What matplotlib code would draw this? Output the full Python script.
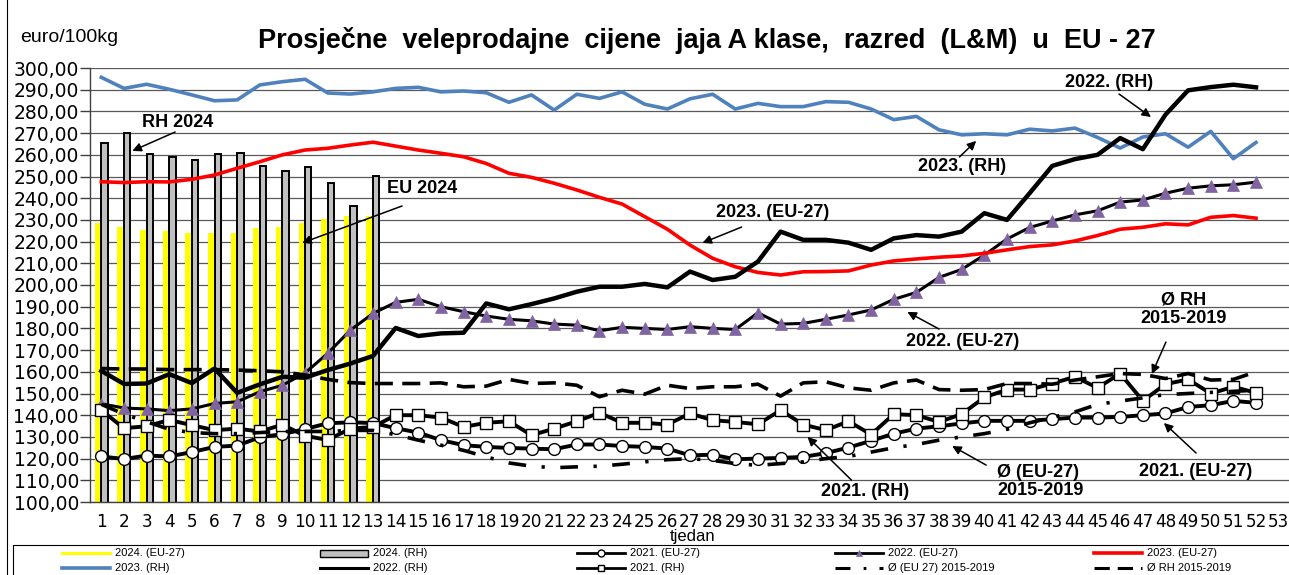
import matplotlib
matplotlib.use("Agg")
import matplotlib.pyplot as plt
import numpy as np
from matplotlib.patches import Rectangle

# ---------------- data ----------------
weeks = list(range(1, 53))
xtick_labels = [str(i) for i in range(1, 54)]
bar_weeks = list(range(1, 14))

eu_2024 = [228.7, 226.7, 225.3, 224.9, 224.1, 223.8, 224.1, 226.1, 226.7, 228.7, 230.4, 231.9, 231.9]
rh_2024 = [265.3, 270.2, 260.4, 259.1, 257.6, 260.4, 261.0, 255.0, 252.7, 254.2, 246.9, 236.4, 250.2]

eu_2021 = [121.0, 119.8, 121.4, 121.0, 123.0, 125.4, 126.0, 129.8, 131.3, 133.6, 136.3, 136.7, 136.4,
           134.0, 132.0, 128.5, 126.2, 125.4, 124.9, 124.6, 124.3, 126.5, 126.5, 125.8, 125.4, 124.6,
           121.5, 121.8, 119.7, 120.0, 120.3, 120.8, 122.5, 125.1, 128.2, 131.5, 133.8, 134.9, 136.2,
           137.4, 137.4, 137.4, 138.2, 138.9, 138.9, 139.2, 140.0, 140.8, 143.8, 144.6, 146.6, 145.7]
eu_2022 = [145.3, 143.3, 142.9, 142.1, 142.9, 145.4, 146.2, 150.8, 153.8, 159.5, 168.5, 179.2, 186.9,
           192.0, 193.4, 190.0, 187.7, 185.7, 184.2, 183.5, 182.0, 181.5, 178.9, 180.5, 180.0, 179.5,
           180.8, 180.0, 179.5, 187.2, 182.0, 182.3, 184.2, 186.2, 188.5, 193.4, 196.6, 203.5, 207.2,
           213.8, 221.2, 226.5, 229.5, 232.3, 234.2, 238.2, 239.2, 242.3, 244.6, 245.7, 246.2, 247.4]
eu_2023 = [247.6, 247.2, 247.6, 247.5, 248.7, 250.7, 253.8, 256.8, 260.0, 262.2, 263.0, 264.5, 265.8,
           264.0, 262.2, 260.7, 259.1, 256.0, 251.5, 249.6, 246.9, 243.8, 240.4, 237.3, 231.5, 225.7,
           218.4, 212.3, 208.4, 205.8, 204.6, 206.1, 206.2, 206.5, 209.2, 211.1, 212.0, 212.8, 213.4,
           214.6, 216.2, 217.7, 218.5, 220.3, 222.8, 225.7, 226.6, 228.2, 227.7, 231.2, 232.0, 230.8]
rh_2023 = [295.7, 290.6, 292.5, 290.2, 287.6, 284.9, 285.3, 292.2, 293.7, 294.8, 288.5, 288.0, 289.0,
           290.6, 291.1, 289.0, 289.4, 288.6, 284.2, 287.6, 280.6, 287.9, 286.0, 289.0, 283.3, 281.1,
           285.8, 287.9, 281.1, 283.7, 282.2, 282.2, 284.5, 284.2, 281.1, 276.2, 277.7, 271.5, 269.2,
           269.7, 269.2, 271.8, 271.0, 272.3, 268.0, 263.1, 268.2, 269.7, 263.5, 270.8, 258.2, 265.7]
rh_2022 = [160.4, 154.4, 154.6, 158.9, 154.8, 161.5, 150.3, 154.2, 157.7, 157.3, 160.8, 163.8, 167.3,
           180.2, 176.5, 177.7, 178.0, 191.5, 188.8, 191.2, 193.8, 196.9, 199.2, 199.2, 200.5, 198.9,
           206.2, 202.3, 203.8, 210.8, 224.6, 220.8, 220.8, 219.5, 216.2, 221.5, 223.0, 222.3, 224.6,
           233.1, 230.0, 242.3, 254.9, 258.0, 260.0, 267.7, 262.6, 278.5, 289.7, 291.2, 292.3, 291.1]
rh_2021 = [142.3, 134.0, 134.9, 137.8, 135.4, 133.1, 133.8, 132.5, 135.6, 130.5, 128.6, 133.8, 134.6,
           140.0, 140.0, 138.9, 134.6, 136.5, 137.2, 130.8, 133.8, 137.2, 141.1, 136.5, 136.5, 135.7,
           140.8, 137.7, 136.9, 135.8, 142.3, 135.7, 133.1, 137.2, 131.1, 140.5, 140.0, 136.9, 140.5,
           148.2, 151.8, 151.8, 154.6, 157.7, 152.6, 159.2, 146.6, 154.3, 156.5, 150.0, 153.1, 150.3]
eu_avg = [145.0, 140.5, 137.0, 133.5, 132.0, 131.5, 131.5, 132.0, 132.5, 132.5, 132.5, 133.0, 133.0,
          131.0, 128.5, 126.2, 123.8, 120.8, 118.0, 116.5, 115.8, 116.2, 116.5, 117.4, 118.5, 119.5,
          120.0, 119.2, 117.7, 116.9, 117.7, 118.5, 120.0, 121.0, 123.0, 125.0, 126.5, 128.5, 130.0,
          131.5, 133.5, 136.5, 139.0, 141.5, 145.0, 146.5, 148.0, 149.5, 150.0, 150.5, 151.0, 151.5]
rh_avg = [161.5, 161.3, 161.3, 161.0, 161.0, 161.0, 160.8, 160.5, 160.0, 158.5, 156.5, 155.0, 154.6,
          154.6, 154.6, 154.9, 153.1, 153.4, 156.5, 154.6, 154.9, 153.8, 148.5, 151.5, 149.7, 153.8,
          152.3, 153.1, 153.1, 154.3, 148.8, 154.9, 155.4, 152.6, 151.5, 154.9, 156.2, 151.8, 151.5,
          151.8, 154.6, 154.6, 154.3, 156.2, 157.7, 159.2, 158.8, 156.9, 159.2, 156.2, 156.5, 160.0]

legend_labels = ["2024. (EU-27)", "2024. (RH)", "2021. (EU-27)", "2022. (EU-27)", "2023. (EU-27)",
                 "2023. (RH)", "2022. (RH)", "2021. (RH)", "Ø (EU 27) 2015-2019", "Ø RH 2015-2019"]

title = "Prosječne  veleprodajne  cijene  jaja A klase,  razred  (L&M)  u  EU - 27"
ylabel = "euro/100kg"
xlabel = "tjedan"

# ---------------- styles ----------------
FONT = "Liberation Sans"
TICKFONT = "DejaVu Sans"
W, H = 1289, 575
fig = plt.figure(figsize=(W / 100, H / 100), dpi=100)
ax = fig.add_axes([90 / W, 73 / H, 1200 / W, 434 / H])

styles = {
    "eu_2021": dict(color="black", lw=2.8, marker="o", ms=8.5, mfc="white", mec="black", mew=1.0, zorder=3),
    "eu_2022": dict(color="black", lw=2.2, marker="^", ms=8.5, mfc="#8064A2", mec="#8064A2", mew=0.5, zorder=4),
    "eu_2023": dict(color="#FF0000", lw=2.6, zorder=5),
    "rh_2023": dict(color="#4F81BD", lw=2.6, zorder=6),
    "rh_2022": dict(color="black", lw=3.2, zorder=7),
    "rh_2021": dict(color="black", lw=2.8, marker="s", ms=8.5, mfc="white", mec="black", mew=1.0, zorder=8),
    "eu_avg": dict(color="black", lw=2.6, dashes=(4.9, 4.3, 0.9, 4.3), zorder=9),
    "rh_avg": dict(color="black", lw=2.6, dashes=(5.0, 2.6), zorder=10),
}

x = np.array(weeks)
xb = np.array(bar_weeks)
ax.bar(xb - 0.15, eu_2024, width=0.28, color="#FFFF00", zorder=2)
ax.bar(xb + 0.14, rh_2024, width=0.28, color="#C0C0C0", edgecolor="black", linewidth=1.4, zorder=2)

series = [("eu_2021", eu_2021), ("eu_2022", eu_2022), ("eu_2023", eu_2023), ("rh_2023", rh_2023),
          ("rh_2022", rh_2022), ("rh_2021", rh_2021), ("eu_avg", eu_avg), ("rh_avg", rh_avg)]
for key, vals in series:
    ax.plot(x, vals, **styles[key])

ax.set_xlim(0.5, 53.5)
ax.set_ylim(100, 300)
ax.set_yticks(np.arange(100, 301, 10))
ax.set_yticklabels([f"{v:.2f}".replace(".", ",") for v in np.arange(100, 301, 10)],
                   fontsize=13.5, family=TICKFONT)
ax.set_xticks(range(1, 54))
ax.set_xticklabels(xtick_labels, fontsize=12.2, family=TICKFONT)
ax.tick_params(axis="x", length=0, pad=8)
ax.tick_params(axis="y", length=7, width=1, color="#404040", pad=1)
ax.set_axisbelow(True)
ax.yaxis.grid(True, color="#595959", lw=0.9)
for s in ["top", "right"]:
    ax.spines[s].set_visible(False)
for s in ["left", "bottom"]:
    ax.spines[s].set_color("#404040")
    ax.spines[s].set_linewidth(1.0)

# annotations (layout positions in data coords)
bold = dict(fontsize=13, fontweight="bold", family=FONT, color="black", zorder=20)
arrow = dict(arrowstyle="-|>", color="black", lw=1.1, mutation_scale=13, shrinkA=0, shrinkB=0)
annots = [
    ("RH 2024", (4.35, 275.1), "center", (4.26, 270.5), (2.37, 261.8)),
    ("EU 2024", (15.16, 244.7), "center", (14.28, 236.4), (9.87, 219.4)),
    ("2023. (EU-27)", (30.64, 233.6), "center", (29.28, 226.7), (27.55, 219.4)),
    ("2022. (RH)", (45.5, 293.5), "center", (45.95, 288.0), (47.36, 277.4)),
    ("2023. (RH)", (39.0, 254.8), "center", (38.9, 259.0), (39.64, 266.4)),
    ("2022. (EU-27)", (39.02, 173.9), "center", (38.0, 179.7), (36.6, 187.6)),
    ("Ø RH\n2015-2019", (48.8, 188.7), "center", (48.02, 173.7), (47.4, 159.0)),
    ("2021. (RH)", (34.74, 104.7), "center", (34.13, 110.1), (32.19, 130.0)),
    ("Ø (EU-27)\n2015-2019", (40.57, 109.4), "left", (40.08, 117.0), (38.58, 125.8)),
    ("2021. (EU-27)", (49.35, 114.0), "center", (49.35, 122.6), (47.93, 136.4)),
]
for txt, pos, ha, a0, a1 in annots:
    ax.text(pos[0], pos[1], txt, ha=ha, va="center", multialignment="center" if ha == "center" else "left",
            linespacing=1.12, **bold)
    ax.annotate("", xy=a1, xytext=a0, arrowprops=arrow, zorder=20)

# overlay in pixel coordinates for titles / legend
ov = fig.add_axes([0, 0, 1, 1], zorder=30)
ov.set_xlim(0, W)
ov.set_ylim(H, 0)
ov.axis("off")
ov.patch.set_alpha(0)

ov.text(707, 40, title, ha="center", va="center", fontsize=19.5, fontweight="bold", family=FONT)
ov.text(20, 37, ylabel, ha="left", va="center", fontsize=14, family=FONT)
ov.text(693, 537, xlabel, ha="center", va="center", fontsize=12, family=FONT)

# chart border (left) and legend box
ov.plot([6.5, 6.5], [0, H], color="black", lw=0.8)
ov.add_patch(Rectangle((13, 545), 1300, 60, fill=False, edgecolor="black", lw=0.8))

leg_styles = [
    dict(color="#FFFF00", lw=5),
    None,
    styles["eu_2021"], styles["eu_2022"], styles["eu_2023"],
    styles["rh_2023"], styles["rh_2022"], styles["rh_2021"], styles["eu_avg"], styles["rh_avg"],
]
col_x = [62, 320, 577, 835, 1094]
row_y = [553, 568]
hl = 48
mkeys = ("marker", "ms", "mfc", "mec", "mew")
for i, lab in enumerate(legend_labels):
    cx = col_x[i % 5]
    cy = row_y[i // 5]
    st = leg_styles[i]
    if st is None:
        ov.add_patch(Rectangle((cx, cy - 3.5), hl, 7, facecolor="#C0C0C0", edgecolor="black", lw=1.0))
    else:
        st2 = {k: v for k, v in st.items() if k != "zorder"}
        if "ms" in st2:
            st2["ms"] = 5
            st2["lw"] = 2.0
            ov.plot([cx, cx + hl], [cy, cy], **{k: v for k, v in st2.items() if k not in mkeys})
            ov.plot([cx + hl / 2], [cy], ls="none", **{k: v for k, v in st2.items() if k in mkeys})
        else:
            if "dashes" in st2 or st2.get("lw", 0) > 3:
                st2["lw"] = 2.2
            ov.plot([cx, cx + hl], [cy, cy], **st2)
    ov.text(cx + hl + 5, cy, lab, ha="left", va="center", fontsize=8, family=FONT)

fig.savefig("out.png", dpi=100)
